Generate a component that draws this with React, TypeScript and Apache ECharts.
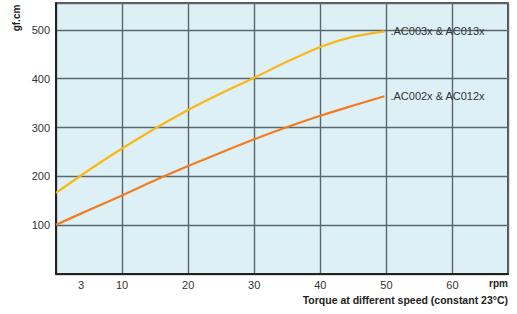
import React, { useEffect, useRef } from "react";
import * as echarts from "echarts";

const seriesNames = [".AC003x & AC013x", ".AC002x & AC012x"];
const speeds = [0, 5, 10, 15, 20, 25, 30, 35, 40, 45, 49.7];
const yellowValues = [166, 213, 257, 298, 336, 370, 402, 435, 465, 486, 497];
const orangeValues = [101, 131, 161, 192, 221, 249, 276, 301, 324, 345, 364];
const xTickValues = [3.8, 10, 20, 30, 40, 50, 60];
const xTickLabels = ["3", "10", "20", "30", "40", "50", "60"];
const yAxisTitle = "gf.cm";
const xUnit = "rpm";
const xTitle = "Torque at different speed (constant 23°C)";

const FONT = "'Liberation Sans', Arial, sans-serif";

export default function App() {
  const ref = useRef<HTMLDivElement>(null);
  useEffect(() => {
    if (!ref.current) return;
    const chart = echarts.init(ref.current, null, { renderer: "svg" });
    const gridColor = "#5d676b";
    const yellowData = speeds.map((s, i) => [s, yellowValues[i]]);
    const orangeData = speeds.map((s, i) => [s, orangeValues[i]]);
    const endLabel = {
      show: true,
      formatter: "{a}",
      color: "#333",
      fontSize: 11,
      fontFamily: FONT,
      distance: 6,
    };
    chart.setOption({
      animation: false,
      grid: {
        left: 56,
        right: 9,
        top: 3,
        bottom: 40,
        show: true,
        backgroundColor: "#dcf0f5",
        borderColor: "#222",
        borderWidth: 1.5,
      },
      xAxis: {
        type: "value",
        min: 0,
        max: 68.4,
        interval: 10,
        axisLine: { show: true, lineStyle: { color: "#222", width: 2 } },
        axisTick: { show: false },
        splitLine: { show: true, lineStyle: { color: gridColor, width: 1.4 } },
        axisLabel: {
          customValues: xTickValues,
          formatter: (v: number) => {
            const i = xTickValues.findIndex((t) => Math.abs(t - v) < 1e-6);
            return i >= 0 ? xTickLabels[i] : "";
          },
          color: "#333",
          fontSize: 11,
          fontFamily: FONT,
          margin: 5,
        },
      },
      yAxis: {
        type: "value",
        min: 0,
        max: 555,
        interval: 100,
        axisLine: { show: true, lineStyle: { color: "#222", width: 2 } },
        axisTick: { show: false },
        splitLine: { show: true, lineStyle: { color: gridColor, width: 1.4 } },
        axisLabel: {
          showMaxLabel: false,
          formatter: (v: number) => (v === 0 || v > 500 ? "" : String(v)),
          color: "#333",
          fontSize: 11,
          fontFamily: FONT,
          margin: 6,
        },
      },
      series: [
        {
          name: seriesNames[0],
          type: "line",
          data: yellowData,
          smooth: 0.3,
          showSymbol: false,
          lineStyle: { color: "#fbb617", width: 2.2 },
          endLabel,
        },
        {
          name: seriesNames[1],
          type: "line",
          data: orangeData,
          smooth: 0.3,
          showSymbol: false,
          lineStyle: { color: "#f47b20", width: 2.2 },
          endLabel,
        },
      ],
      graphic: [
        {
          type: "text",
          x: 16,
          y: 18,
          rotation: Math.PI / 2,
          style: {
            text: yAxisTitle,
            fontSize: 10,
            fontWeight: "bold",
            fontFamily: FONT,
            fill: "#222",
            textAlign: "center",
            textVerticalAlign: "middle",
          },
        },
        {
          type: "text",
          x: 508,
          y: 283,
          style: {
            text: xUnit,
            fontSize: 10,
            fontWeight: "bold",
            fontFamily: FONT,
            fill: "#222",
            textAlign: "right",
            textVerticalAlign: "middle",
          },
        },
        {
          type: "text",
          x: 508,
          y: 300,
          style: {
            text: xTitle,
            fontSize: 10.5,
            fontWeight: "bold",
            fontFamily: FONT,
            fill: "#222",
            textAlign: "right",
            textVerticalAlign: "middle",
          },
        },
      ],
    });
    return () => chart.dispose();
  }, []);
  return (
    <div
      ref={ref}
      style={{ position: "absolute", left: 0, top: 0, width: 517, height: 314 }}
    />
  );
}
